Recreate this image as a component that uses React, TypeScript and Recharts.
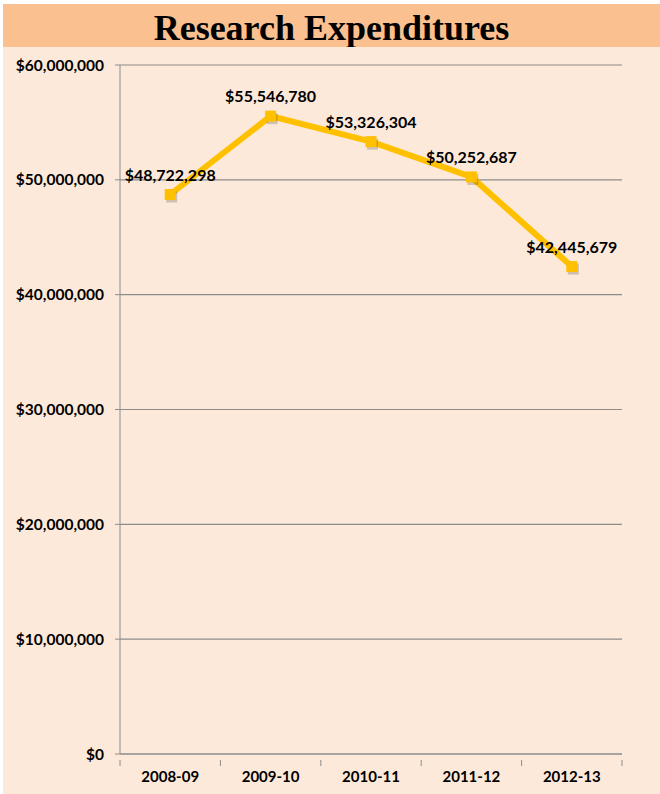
import { CartesianGrid, LabelList, Line, LineChart, XAxis, YAxis } from 'recharts'

const years = ['2008-09', '2009-10', '2010-11', '2011-12', '2012-13']
const spending = [48722298, 55546780, 53326304, 50252687, 42445679]
const yTicks = [0, 10000000, 20000000, 30000000, 40000000, 50000000, 60000000]

const data = years.map((year, i) => ({ year, spending: spending[i] }))

const W = 657
const H = 747
const margin = { top: 18, right: 38, left: 0, bottom: 0 }
const yAxisWidth = 117
const band = (W - margin.left - margin.right - yAxisWidth) / years.length

const money = (v: number) => '$' + v.toLocaleString('en-US')
const labelFont = { fontFamily: 'Lato, sans-serif', fontWeight: 700 }

function YearTick(props: any) {
  const { x, y, payload, index } = props
  const top = y - 14
  return (
    <g>
      <line x1={x - band / 2} x2={x - band / 2} y1={top} y2={top + 6} stroke="#8c8c8c" />
      {index === years.length - 1 && (
        <line x1={x + band / 2} x2={x + band / 2} y1={top} y2={top + 6} stroke="#8c8c8c" />
      )}
      <text x={x} y={y + 8} textAnchor="middle" fill="#000" {...labelFont} fontSize={15}>
        {payload.value}
      </text>
    </g>
  )
}

function SquareDot(props: any) {
  const { cx, cy } = props
  if (cx == null || cy == null) return null
  return (
    <g>
      <rect x={cx - 4} y={cy - 3} width={11} height={11} fill="#000" opacity={0.18} />
      <rect x={cx - 5.5} y={cy - 5.5} width={11} height={11} fill="#FFC000" />
    </g>
  )
}

export default function App() {
  return (
    <div style={{ position: 'relative', width: 660, height: 794, background: '#fff' }}>
      <style>{'body{margin:0}'}</style>
      <div
        style={{
          position: 'absolute',
          left: 3,
          top: 4,
          width: 657,
          height: 43,
          background: '#FAC090',
          textAlign: 'center',
          fontFamily: '"Liberation Serif", serif',
          fontWeight: 700,
          fontSize: 36,
          lineHeight: '48px',
          color: '#000',
        }}
      >
        Research Expenditures
      </div>
      <div style={{ position: 'absolute', left: 3, top: 47, width: W, height: H, background: '#FDE9D9' }}>
        <LineChart width={W} height={H} data={data} margin={margin}>
          <CartesianGrid vertical={false} stroke="#8c8c8c" strokeWidth={1.2} />
          <XAxis
            dataKey="year"
            scale="band"
            height={40}
            stroke="#8c8c8c"
            tickLine={false}
            tick={<YearTick />}
            tickMargin={14}
          />
          <YAxis
            width={yAxisWidth}
            domain={[0, 60000000]}
            ticks={yTicks}
            interval={0}
            stroke="#8c8c8c"
            tickSize={5}
            tickMargin={11}
            tickFormatter={money}
            tick={{ fill: '#000', ...labelFont, fontSize: 15.5 }}
          />
          <Line
            type="linear"
            dataKey="spending"
            stroke="#FFC000"
            strokeWidth={6}
            dot={<SquareDot />}
            activeDot={false}
            isAnimationActive={false}
          >
            <LabelList
              dataKey="spending"
              position="top"
              offset={14}
              formatter={(v: any) => money(Number(v))}
              fill="#000"
              style={{ ...labelFont, fontSize: 16 }}
            />
          </Line>
        </LineChart>
      </div>
    </div>
  )
}
